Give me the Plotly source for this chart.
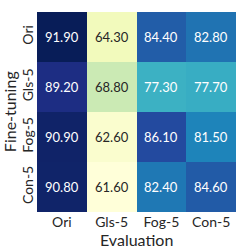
import plotly.graph_objects as go

eval_labels = ["Ori", "Gls-5", "Fog-5", "Con-5"]
ft_labels = ["Ori", "Gls-5", "Fog-5", "Con-5"]
values = [
    [91.90, 64.30, 84.40, 82.80],
    [89.20, 68.80, 77.30, 77.70],
    [90.90, 62.60, 86.10, 81.50],
    [90.80, 61.60, 82.40, 84.60],
]

flat = [v for r in values for v in r]
vmin, vmax = min(flat), max(flat)

fig = go.Figure(go.Heatmap(
    z=values, x=eval_labels, y=ft_labels,
    colorscale="YlGnBu", zmin=vmin, zmax=vmax, showscale=False,
    xgap=0, ygap=0, hoverinfo="skip",
))

for i, row in enumerate(values):
    for j, v in enumerate(row):
        frac = (v - vmin) / (vmax - vmin)
        color = "white" if frac > 0.4 else "#262626"
        fig.add_annotation(x=eval_labels[j], y=ft_labels[i], text=f"{v:.2f}",
                           showarrow=False, font=dict(size=13, color=color))

fig.add_annotation(xref="paper", yref="paper", x=0.5, y=-0.137, text="Evaluation",
                   showarrow=False, xanchor="center", yanchor="middle",
                   font=dict(size=16, color="#262626"))
fig.add_annotation(xref="paper", yref="paper", x=-0.14, y=0.5, text="Fine-tuning",
                   showarrow=False, xanchor="center", yanchor="middle", textangle=-90,
                   font=dict(size=16, color="#262626"))

fig.update_layout(
    template="none",
    width=249, height=249,
    margin=dict(l=37, r=13, t=12, b=37, pad=0),
    paper_bgcolor="white", plot_bgcolor="white",
    font=dict(family="Lato", color="#262626"),
    xaxis=dict(tickfont=dict(size=14), ticks="", showgrid=False, zeroline=False,
               automargin=False, showline=False),
    yaxis=dict(tickfont=dict(size=14), ticks="", tickangle=-90, autorange="reversed",
               showgrid=False, zeroline=False, automargin=False, showline=False),
)

fig.write_html("out.html", config={"displayModeBar": False},
               post_script="document.body.style.margin='0';")
